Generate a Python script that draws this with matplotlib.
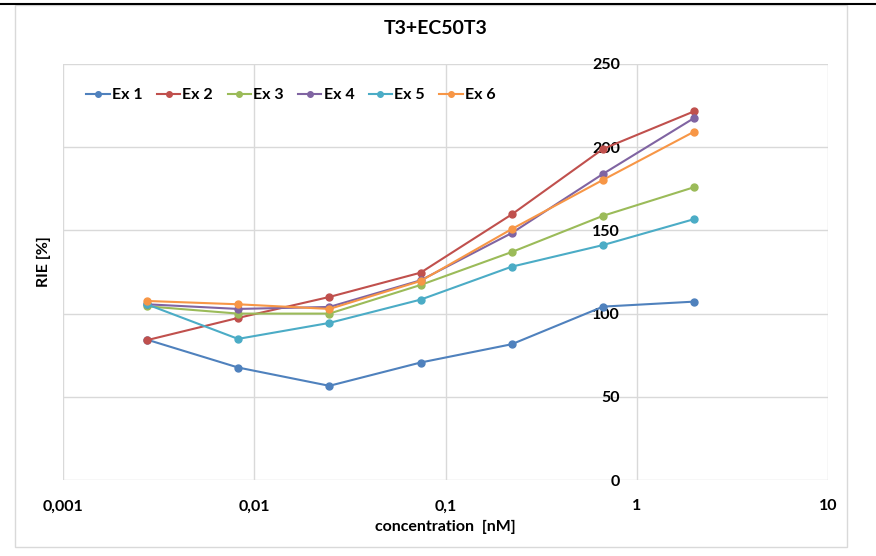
import matplotlib.pyplot as plt
from matplotlib.lines import Line2D
from matplotlib.patches import Rectangle

plt.rcParams['font.family'] = ['Lato', 'DejaVu Sans']
plt.rcParams['font.weight'] = 'bold'

# concentrations (nM), serial 1:3 dilution
conc = [0.00274, 0.00823, 0.0247, 0.0741, 0.222, 0.667, 2.0]

ex1 = [84.4, 67.6, 56.6, 70.6, 81.6, 104.2, 107.2]
ex2 = [84.0, 97.4, 110.0, 124.6, 159.6, 199.0, 221.6]
ex3 = [104.4, 100.0, 100.0, 117.2, 137.0, 158.8, 176.0]
ex4 = [105.6, 102.8, 104.0, 120.0, 148.4, 184.0, 217.6]
ex5 = [105.6, 84.8, 94.4, 108.4, 128.2, 141.2, 156.8]
ex6 = [107.6, 105.6, 102.8, 119.6, 150.8, 180.4, 209.4]

series = [ex1, ex2, ex3, ex4, ex5, ex6]
names = ['Ex 1', 'Ex 2', 'Ex 3', 'Ex 4', 'Ex 5', 'Ex 6']
colors = ['#4F81BD', '#C0504D', '#9BBB59', '#8064A2', '#4BACC6', '#F79646']

xticks = [0.001, 0.01, 0.1, 1, 10]
xtick_labels = ['0,001', '0,01', '0,1', '1', '10']
yticks = [0, 50, 100, 150, 200, 250]

W, H = 876, 556
fs = 11.5
fig = plt.figure(figsize=(W / 100, H / 100), dpi=100)
ax = fig.add_axes([63 / W, (H - 480) / H, (828 - 63) / W, (480 - 64) / H])

for vals, name, c in zip(series, names, colors):
    ax.plot(conc, vals, color=c, lw=1.5, marker='o', ms=5, label=name,
            zorder=3)

ax.set_xscale('log')
ax.set_xlim(0.001, 10)
ax.set_ylim(0, 250)
ax.set_xticks(xticks)
ax.set_xticklabels(xtick_labels)
ax.minorticks_off()
ax.set_yticks(yticks)

# value axis crosses at x = 1
ax.spines['left'].set_position(('data', 1))
for s in ax.spines.values():
    s.set_visible(False)
ax.grid(True, color='#d9d9d9', lw=1)
ax.tick_params(axis='both', length=0, labelsize=fs)
ax.tick_params(axis='x', pad=14)
ax.tick_params(axis='y', pad=12)
for lab in ax.get_xticklabels() + ax.get_yticklabels():
    lab.set_fontweight('bold')

fig.text(436 / W, 1 - 28 / H, 'T3+EC50T3', ha='center', va='center',
         fontsize=14, fontweight='bold')
fig.text(445 / W, 1 - 527 / H, 'concentration  [nM]', ha='center',
         va='center', fontsize=fs, fontweight='bold')
fig.text(44 / W, 1 - 262 / H, 'RIE [%]', ha='center', va='center',
         rotation=90, fontsize=fs, fontweight='bold')

handles = [Line2D([], [], color=c, lw=1.5, marker='o', ms=4) for c in colors]
leg = fig.legend(handles, names, ncol=6, loc='center left',
                 bbox_to_anchor=(72 / W, 1 - 95 / H), frameon=False,
                 handlelength=1.45, handletextpad=0.15, columnspacing=0.9,
                 prop={'weight': 'bold', 'size': fs})

# chart frame
fig.patches.append(Rectangle((15 / W, 1 - 547 / H), (847 - 15) / W,
                             (547 - 5) / H, transform=fig.transFigure,
                             fill=False, ec='#d9d9d9', lw=1))
fig.lines.append(Line2D([0, 1], [1 - 4 / H, 1 - 4 / H],
                        transform=fig.transFigure, color='black', lw=1.5))

fig.savefig('out.png', dpi=100)
